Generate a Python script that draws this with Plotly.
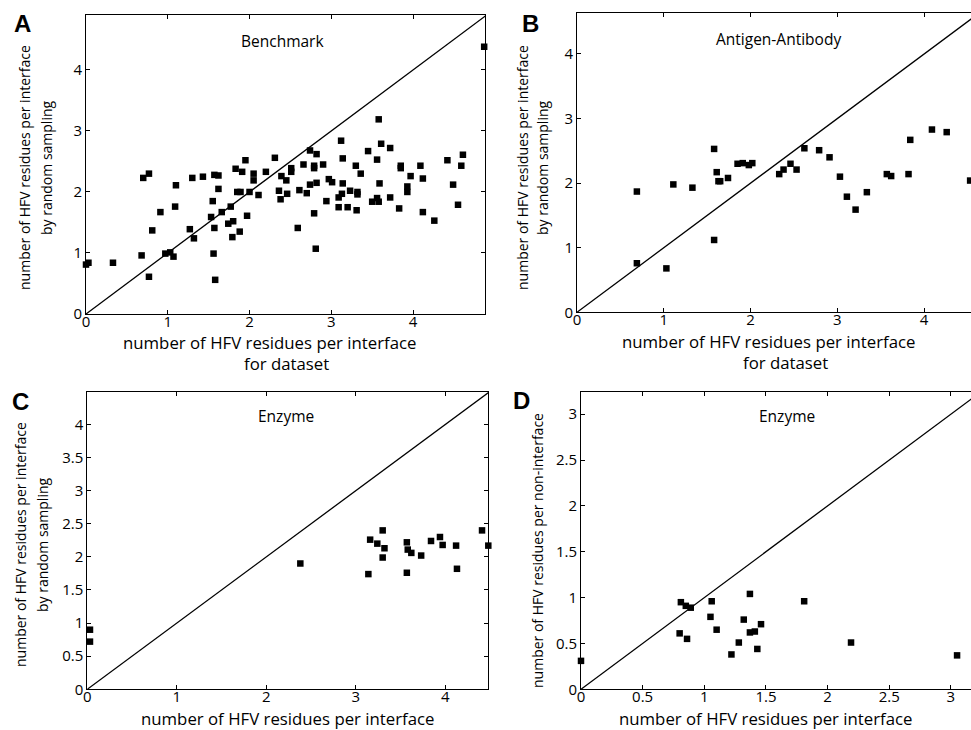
import plotly.graph_objects as go

W, H = 971, 730

# ---------------- data ----------------
bench_x = [0.00, 0.03, 0.33, 0.68, 0.77, 0.70, 0.77, 0.81, 0.91, 0.97, 1.03, 1.07, 1.09, 1.10,
           1.27, 1.32, 1.30, 1.43, 1.53, 1.55, 1.57, 1.56, 1.58, 1.57, 1.62, 1.62, 1.66, 1.74,
           1.77, 1.80, 1.79, 1.88, 1.83, 1.85, 1.89, 1.91, 1.95, 1.97, 2.00, 2.05, 2.05, 2.11,
           2.20, 2.31, 2.36, 2.38, 2.39, 2.45, 2.46, 2.51, 2.51, 2.59, 2.61, 2.66, 2.70, 2.74,
           2.74, 2.79, 2.79, 2.82, 2.79, 2.82, 2.81, 2.90, 2.94, 2.97, 3.01, 3.09, 3.12, 3.09,
           3.13, 3.14, 3.14, 3.20, 3.23, 3.30, 3.31, 3.32, 3.32, 3.36, 3.45, 3.50, 3.56, 3.56,
           3.58, 3.58, 3.59, 3.61, 3.72, 3.72, 3.83, 3.85, 3.85, 3.93, 3.93, 3.97, 4.09, 4.12,
           4.12, 4.26, 4.42, 4.49, 4.55, 4.59, 4.61, 4.87]
bench_y = [0.81, 0.84, 0.84, 0.96, 0.61, 2.23, 2.30, 1.37, 1.67, 0.99, 1.01, 0.94, 1.76, 2.11,
           1.39, 1.24, 2.23, 2.25, 1.59, 1.85, 1.41, 0.99, 0.56, 2.28, 2.27, 2.05, 1.67, 1.48,
           1.76, 1.52, 1.26, 1.35, 2.38, 2.00, 2.00, 2.33, 2.52, 1.61, 2.00, 2.30, 2.19, 1.95,
           2.33, 2.56, 2.02, 1.88, 2.26, 2.19, 1.97, 2.39, 2.33, 1.41, 2.03, 2.45, 1.98, 2.68,
           2.12, 2.43, 2.39, 2.62, 1.65, 2.15, 1.07, 2.45, 1.85, 2.21, 2.16, 1.91, 2.84, 1.75,
           1.97, 2.55, 2.14, 1.75, 2.02, 2.43, 1.70, 1.96, 2.00, 2.30, 2.67, 1.84, 1.90, 2.53,
           3.19, 1.84, 2.14, 2.79, 2.72, 1.91, 1.73, 2.43, 2.39, 2.09, 2.00, 2.26, 2.43, 2.22,
           1.67, 1.53, 2.52, 2.12, 1.79, 2.43, 2.61, 4.38]

ab_x = [0.69, 0.69, 1.03, 1.11, 1.33, 1.58, 1.58, 1.61, 1.63, 1.65, 1.74, 1.85, 1.91, 1.98,
        2.02, 2.33, 2.38, 2.46, 2.53, 2.62, 2.79, 2.91, 3.03, 3.11, 3.21, 3.34, 3.57, 3.62,
        3.82, 3.84, 4.09, 4.26, 4.53]
ab_y = [1.87, 0.76, 0.68, 1.98, 1.93, 2.53, 1.12, 2.17, 2.03, 2.03, 2.08, 2.30, 2.31, 2.28,
        2.31, 2.14, 2.21, 2.30, 2.21, 2.54, 2.51, 2.40, 2.10, 1.79, 1.59, 1.86, 2.14, 2.11,
        2.14, 2.67, 2.83, 2.79, 2.04]

enz_x = [0.03, 0.03, 2.38, 3.14, 3.16, 3.24, 3.30, 3.30, 3.32, 3.57, 3.58, 3.57, 3.62, 3.73,
         3.84, 3.94, 3.97, 4.12, 4.13, 4.41, 4.48]
enz_y = [0.90, 0.72, 1.90, 1.74, 2.26, 2.20, 2.40, 1.99, 2.13, 2.22, 2.11, 1.76, 2.06, 2.02,
         2.24, 2.30, 2.18, 2.17, 1.82, 2.40, 2.17]

enzd_x = [0.00, 0.80, 0.81, 0.85, 0.89, 0.86, 1.05, 1.06, 1.10, 1.22, 1.28, 1.32, 1.37, 1.37,
          1.41, 1.43, 1.46, 1.81, 2.19, 3.05]
enzd_y = [0.31, 0.61, 0.95, 0.91, 0.89, 0.55, 0.79, 0.96, 0.65, 0.38, 0.51, 0.76, 1.04, 0.62,
          0.63, 0.44, 0.71, 0.96, 0.51, 0.37]

diag = [0, 6]

x_ticks_ABC = [0, 1, 2, 3, 4]
y_ticks_AB = [0, 1, 2, 3, 4]
y_ticks_C = [0, 0.5, 1, 1.5, 2, 2.5, 3, 3.5, 4]
ticks_D = [0, 0.5, 1, 1.5, 2, 2.5, 3]

# ---------------- layout helpers ----------------
def dx(a, b):
    return [a / W, min(b / W, 1.0)]

def dy(top, bottom):
    return [1 - bottom / H, 1 - top / H]

FONT = "Open Sans"
TICKFONT = dict(family=FONT, size=15, color="black")

panels = [
    (bench_x, bench_y, dx(86, 485), dy(15, 314), [0, 4.88], [0, 4.9], x_ticks_ABC, y_ticks_AB, True),
    (ab_x, ab_y, dx(577, 971), dy(13.3, 312.3), [0, 4.54], [0, 4.63], x_ticks_ABC, y_ticks_AB, False),
    (enz_x, enz_y, dx(87.3, 488.3), dy(392, 689.3), [0, 4.48], [0, 4.49], x_ticks_ABC, y_ticks_C, True),
    (enzd_x, enzd_y, dx(581, 971), dy(391.7, 689.3), [0, 3.163], [0, 3.245], ticks_D, ticks_D, False),
]

fig = go.Figure()
layout = dict(
    width=W, height=H,
    margin=dict(l=0, r=0, t=0, b=0, pad=0, autoexpand=False),
    paper_bgcolor="white", plot_bgcolor="white",
    showlegend=False,
    font=dict(family=FONT, size=14, color="black"),
)

for i, (px, py, xd, yd, xr, yr, xt, yt, box) in enumerate(panels, start=1):
    sfx = "" if i == 1 else str(i)
    xa, ya = "x" + sfx, "y" + sfx
    fig.add_trace(go.Scatter(x=diag, y=diag, mode="lines", xaxis=xa, yaxis=ya,
                             line=dict(color="black", width=1.3), hoverinfo="skip"))
    fig.add_trace(go.Scatter(x=px, y=py, mode="markers", xaxis=xa, yaxis=ya,
                             cliponaxis=False,
                             marker=dict(symbol="square", size=6.5, color="black",
                                         line=dict(width=0))))
    layout["xaxis" + sfx] = dict(
        domain=xd, range=xr, anchor=ya, tickvals=xt, ticks="inside", ticklen=4,
        tickcolor="black", tickwidth=1, showline=True, linecolor="black", linewidth=1,
        mirror="ticks", showgrid=False, zeroline=False, tickfont=TICKFONT,
        fixedrange=True, automargin=False, ticklabelstandoff=-6,
    )
    layout["yaxis" + sfx] = dict(
        domain=yd, range=yr, anchor=xa, tickvals=yt, ticks="inside", ticklen=4,
        tickcolor="black", tickwidth=1, showline=True, linecolor="black", linewidth=1,
        mirror="ticks" if box else False, showgrid=False, zeroline=False, tickfont=TICKFONT,
        fixedrange=True, automargin=False,
    )

fig.update_layout(**layout)

def ann(text, x, y, size=16.8, angle=0, bold=False, family=FONT):
    fig.add_annotation(
        text=f"<b>{text}</b>" if bold else text,
        x=x / W, y=1 - y / H, xref="paper", yref="paper",
        xanchor="center", yanchor="middle", showarrow=False, textangle=angle,
        borderpad=0,
        font=dict(family=family, size=size, color="black"),
    )

# panel letters
ann("A", 22.5, 24, size=24, bold=True, family="Liberation Sans")
ann("B", 530.5, 23, size=24, bold=True, family="Liberation Sans")
ann("C", 20, 401, size=24, bold=True, family="Liberation Sans")
ann("D", 521, 400, size=24, bold=True, family="Liberation Sans")

# titles inside panels
ann("Benchmark", 282, 41, size=15.5)
ann("Antigen-Antibody", 778, 39, size=15.5)
ann("Enzyme", 286, 415.5, size=15.5)
ann("Enzyme", 787, 416, size=15.5)

# x axis titles
ann("number of HFV residues per interface", 270, 342)
ann("for dataset", 286, 363)
ann("number of HFV residues per interface", 769, 341)
ann("for dataset", 785, 362)
ann("number of HFV residues per interface", 288, 718)
ann("number of HFV residues per interface", 765.5, 718)

# y axis titles
YT = 14
ann("number of HFV residues per interface", 25, 168, size=YT, angle=-90)
ann("by random sampling", 47, 168, size=YT, angle=-90)
ann("number of HFV residues per interface", 523, 168, size=YT, angle=-90)
ann("by random sampling", 543, 168, size=YT, angle=-90)
ann("number of HFV residues per interface", 20, 545, size=YT, angle=-90)
ann("by random sampling", 42, 545, size=YT, angle=-90)
ann("number of HFV residues per non-interface", 537, 551, size=YT, angle=-90)

fig.write_html(
    "out.html",
    config={"displayModeBar": False, "staticPlot": True},
    post_script="document.body.style.margin='0';document.body.style.padding='0';"
                "document.documentElement.style.overflow='hidden';",
)
